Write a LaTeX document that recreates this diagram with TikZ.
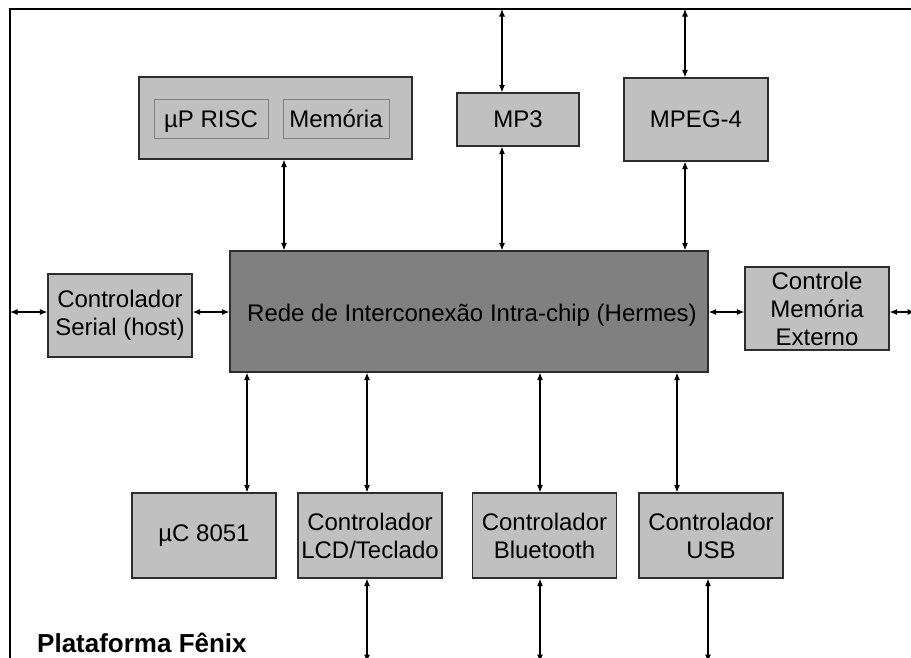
\documentclass[tikz,border=0pt]{standalone}
\usepackage{fontspec}
\setmainfont{Liberation Sans}
\usetikzlibrary{arrows.meta,positioning,calc}
\definecolor{BoxGray}{RGB}{192,192,192}
\definecolor{NocGray}{RGB}{128,128,128}
\definecolor{EdgeGray}{RGB}{45,45,45}

\begin{document}
\begin{tikzpicture}[x=1pt,y=-1pt,>={Latex[length=7.5pt,width=6pt]},
  blk/.style={draw=EdgeGray,fill=BoxGray,line width=1.2pt,inner sep=0pt,align=center,
    font=\fontsize{24}{28}\selectfont},
  sub/.style={draw=NocGray,line width=1pt,inner sep=0pt,minimum height=39pt,
    text height=17pt,text depth=0pt,font=\fontsize{24}{28}\selectfont},
  link/.style={<->,line width=1.1pt}]
  \useasboundingbox (0,0) rectangle (911,657);
  \coordinate (tl) at (10,9);
  \coordinate (tr) at (915,9);
  \coordinate (bl) at (10,662);
  \draw[line width=1.3pt] (tr) -- (tl) -- (bl);

  \node[blk,minimum width=273pt,minimum height=82pt] (cpu) at (275.5,118) {};
  \node[sub,minimum width=114pt] (risc) at (211,118.5) {µP RISC};
  \node[sub,minimum width=106pt] (mem) at (336,118.5) {Memória};
  \node[blk,minimum width=122pt,minimum height=53pt] (mp3) at (518,119.5) {MP3};
  \node[blk,minimum width=144pt,minimum height=83pt] (mpeg) at (696,119.5) {MPEG-4};
  \node[blk,fill=NocGray,minimum width=478pt,minimum height=121pt] (hermes) at (469,311.5) {};
  \node[font=\fontsize{24}{28}\selectfont,inner sep=0pt] (hermestxt) at (472,315)
    {Rede de Interconexão Intra-chip (Hermes)};
  \node[blk,minimum width=144pt,minimum height=83pt] (serial) at (120,315.5)
    {Controlador\\Serial (host)};
  \node[blk,minimum width=144pt,minimum height=83pt] (extmem) at (817,308.5)
    {Controle\\Memória\\Externo};
  \node[blk,minimum width=144pt,minimum height=85pt] (uc) at (204,535.5) {µC 8051};
  \node[blk,minimum width=144pt,minimum height=85pt] (lcd) at (370,535.5)
    {Controlador\\LCD/Teclado};
  \node[blk,minimum width=144pt,minimum height=85pt] (bt) at (544.5,535.5)
    {Controlador\\Bluetooth};
  \node[blk,minimum width=144pt,minimum height=85pt] (usb) at (711,535.5)
    {Controlador\\USB};
  \node[anchor=base west,inner sep=0pt,font=\bfseries\fontsize{26}{30}\selectfont] (title)
    at (37,652) {Plataforma Fênix};

  \coordinate (cpubus) at (284,0);
  \coordinate (mp3bus) at (502,0);
  \coordinate (mpegbus) at (685,0);
  \coordinate (ucbus) at (247,0);
  \coordinate (lcdbus) at (367,0);
  \coordinate (btbus) at (540,0);
  \coordinate (usbbus) at (677,0);
  \coordinate (usbout) at (708,0);
  \coordinate (hbus) at (0,312);

  \draw[link] (cpubus |- cpu.south) -- (cpubus |- hermes.north);
  \draw[link] (mp3bus |- tl) -- (mp3bus |- mp3.north);
  \draw[link] (mp3bus |- mp3.south) -- (mp3bus |- hermes.north);
  \draw[link] (mpegbus |- tl) -- (mpegbus |- mpeg.north);
  \draw[link] (mpegbus |- mpeg.south) -- (mpegbus |- hermes.north);
  \draw[link] (hbus -| tl) -- (hbus -| serial.west);
  \draw[link] (hbus -| serial.east) -- (hbus -| hermes.west);
  \draw[link] (hbus -| hermes.east) -- (hbus -| extmem.west);
  \draw[link] (hbus -| extmem.east) -- (hbus -| tr);
  \draw[link] (ucbus |- uc.north) -- (ucbus |- hermes.south);
  \draw[link] (lcdbus |- lcd.north) -- (lcdbus |- hermes.south);
  \draw[link] (btbus |- bt.north) -- (btbus |- hermes.south);
  \draw[link] (usbbus |- usb.north) -- (usbbus |- hermes.south);
  \draw[link] (lcdbus |- lcd.south) -- (lcdbus |- bl);
  \draw[link] (btbus |- bt.south) -- (btbus |- bl);
  \draw[link] (usbout |- usb.south) -- (usbout |- bl);
\end{tikzpicture}
\end{document}
